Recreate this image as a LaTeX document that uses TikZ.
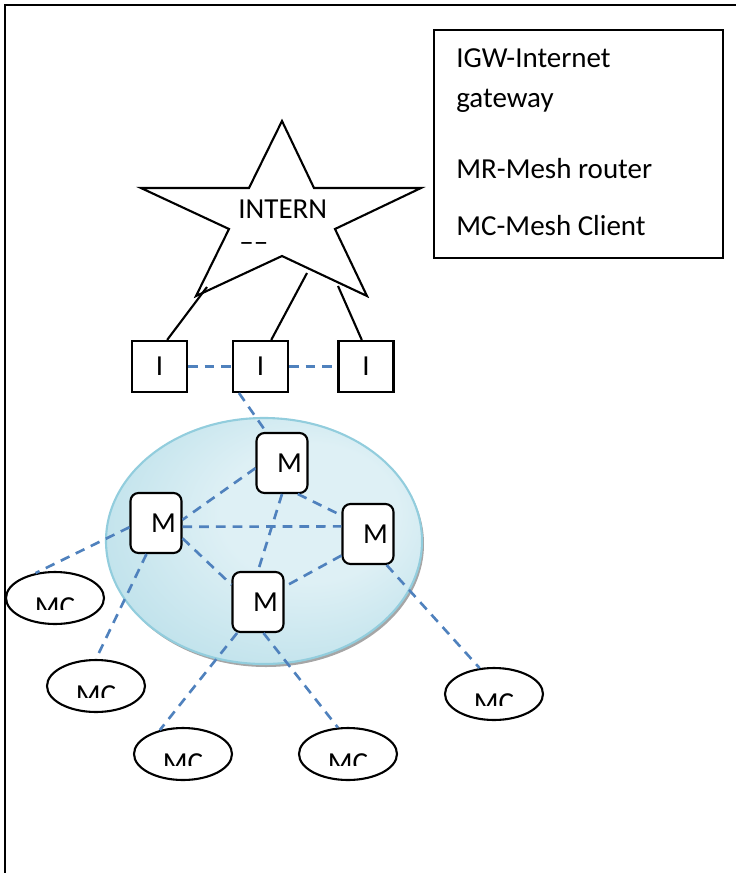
\documentclass[tikz,border=0pt]{standalone}
\usepackage{fontspec}
\setmainfont{Carlito}
\usetikzlibrary{shapes.geometric}
\definecolor{meshblue}{RGB}{79,129,189}
\definecolor{cloudlight}{RGB}{222,240,245}
\definecolor{cloudmid}{RGB}{194,227,236}
\definecolor{clouddark}{RGB}{145,202,218}
\definecolor{cloudedge}{RGB}{146,205,221}
\pgfdeclareradialshading{cloudfill}{\pgfpoint{10bp}{8bp}}{color(0bp)=(cloudlight); color(14bp)=(cloudlight); color(30bp)=(cloudmid); color(46bp)=(clouddark); color(50bp)=(clouddark)}
\begin{document}
\begin{tikzpicture}[x=0.02cm,y=-0.02cm,
	every node/.style={font=\fontsize{16.5}{19}\selectfont},
	igw/.style={draw,line width=1.2pt,minimum width=1.1cm,minimum height=1.02cm,inner sep=0pt},
	router/.style={draw,fill=white,line width=1.2pt,rounded corners=0.16cm,minimum width=1.02cm,minimum height=1.2cm,inner sep=0pt},
	client/.style={draw,ellipse,line width=1.2pt,minimum width=1.96cm,minimum height=1.04cm,inner sep=0pt,
		path picture={\clip ([yshift=-0.22cm]path picture bounding box.west) rectangle (path picture bounding box.north east);
			\node[anchor=base,inner sep=0pt] at ([yshift=-0.37cm]path picture bounding box.center) {MC};}},
	wire/.style={line width=1.2pt},
	mesh/.style={meshblue,line width=1.5pt,dash pattern=on 5.5pt off 4pt}]
	\useasboundingbox (0,0) rectangle (736,873);
	\draw[line width=1.3pt] (5,873) -- (5,5) -- (736,5);
	\node[draw,line width=1.2pt,minimum width=5.78cm,minimum height=4.56cm,anchor=north west] (legend) at (433,29) {};
	\node[anchor=base west,inner sep=0pt] (leg1) at (456,67) {IGW-Internet};
	\node[anchor=base west,inner sep=0pt] (leg2) at (456,107) {gateway};
	\node[anchor=base west,inner sep=0pt] (leg3) at (456,178) {MR-Mesh router};
	\node[anchor=base west,inner sep=0pt] (leg4) at (456,235) {MC-Mesh Client};
	\draw[wire] (282,121) -- (314,188) -- (421,188) -- (335,229) -- (367,296) -- (282,256) -- (196,296) -- (229,229) -- (141,188) -- (249,188) -- cycle;
	\node[anchor=base west,inner sep=0pt] (inet) at (238,218) {INTERN};
	\node[anchor=base west,inner sep=0pt] (inetdash) at (239,251) {––};
	\coordinate (s1) at (207,287);
	\coordinate (s2) at (307,273);
	\coordinate (s3) at (338,286);
	\node[igw] (i1) at (159.5,366.5) {I};
	\node[igw] (i2) at (260.5,366.5) {I};
	\node[igw] (i3) at (366,366.5) {I};
	\draw[wire] (s1) -- (i1.74);
	\draw[wire] (s2) -- (i2.68);
	\draw[wire] (s3) -- (i3.99);
	\draw[mesh] (i1.east) -- (i2.west);
	\draw[mesh] (i2.east) -- (i3.west);
	\fill[black!35] (266,544) ellipse [x radius=158, y radius=123];
	\shade[shading=cloudfill,draw=cloudedge,line width=1.2pt] (264,541) ellipse [x radius=158, y radius=123];
	\node[router] (mt) at (282,463) {\hspace*{0.3cm}M};
	\node[router] (ml) at (156,523) {\hspace*{0.3cm}M};
	\node[router] (mr) at (368,534) {\hspace*{0.3cm}M};
	\node[router] (mb) at (258,602) {\hspace*{0.3cm}M};
	\node[client] (mc1) at (55,598) {};
	\node[client] (mc2) at (96,686) {};
	\node[client] (mc3) at (183,754) {};
	\node[client] (mc4) at (348,754) {};
	\node[client] (mc5) at (494,694) {};
	\draw[mesh] (i2.231) -- (mt.117);
	\draw[mesh] (mt.191) -- (ml.7);
	\draw[mesh] (mt.297) -- (mr.145);
	\draw[mesh] (mt.south) -- (mb.north);
	\draw[mesh] (ml.-8) -- (mr.164);
	\draw[mesh] (ml.-30) -- (mb.147);
	\draw[mesh] (mr.219) -- (mb.30);
	\draw[mesh] (ml.189) -- (mc1.128);
	\draw[mesh] (ml.253) -- (mc2.north);
	\draw[mesh] (mb.236) -- (mc3.134);
	\draw[mesh] (mb.280) -- (mc4.111);
	\draw[mesh] (mr.301) -- (mc5.119);
\end{tikzpicture}
\end{document}
